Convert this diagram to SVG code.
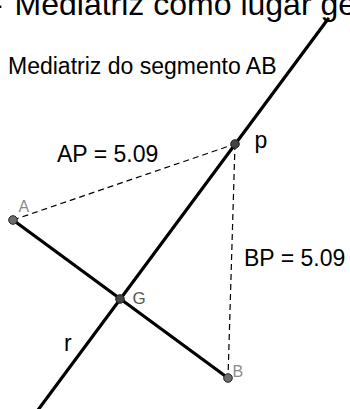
<svg xmlns="http://www.w3.org/2000/svg" width="350" height="409" viewBox="0 0 350 409">
<style>
text{font-family:"Liberation Sans",Arial,sans-serif;fill:#000}
.big{font-size:23px}
.title{font-size:32px}
.lbl{font-size:16px;fill:#8c8c8c}
.lblG{font-size:17px;fill:#555}
.thick{stroke:#000;stroke-width:3.2;stroke-linecap:round;fill:none}
.dash{stroke:#000;stroke-width:1.2;stroke-dasharray:6,4;fill:none}
.pt{stroke:#222;stroke-width:1}
</style>
<rect width="350" height="409" fill="#fff"/>
<text class="title" x="-8" y="15">-<tspan dx="3"> Mediatriz como lugar ge</tspan></text>
<text class="big" x="8" y="73.5">Mediatriz do segmento AB</text>
<g id="connectors">
<line id="r" class="thick" x1="328" y1="19" x2="36.5" y2="412"/>
<line id="AB" class="thick" x1="13" y1="220" x2="228" y2="378"/>
<line id="AP" class="dash" x1="13" y1="220" x2="235" y2="144"/>
<line id="PB" class="dash" x1="235" y1="144" x2="228" y2="378"/>
</g>
<text class="big" x="57" y="161.5">AP = 5.09</text>
<text class="big" x="244" y="266">BP = 5.09</text>
<text class="big" x="64" y="351">r</text>
<g id="point-A"><circle class="pt" cx="13" cy="220" r="4.3" fill="#6e6e6e"/><text class="lbl" x="18.5" y="212">A</text></g>
<g id="point-B"><circle class="pt" cx="228" cy="378" r="4.3" fill="#6e6e6e"/><text class="lbl" x="232.5" y="377">B</text></g>
<g id="point-G"><circle class="pt" cx="120" cy="299" r="4.3" fill="#444"/><text class="lblG" x="132.5" y="304">G</text></g>
<g id="point-P"><circle class="pt" cx="235" cy="144" r="4.3" fill="#444"/><text class="big" x="254.5" y="148">p</text></g>
</svg>
